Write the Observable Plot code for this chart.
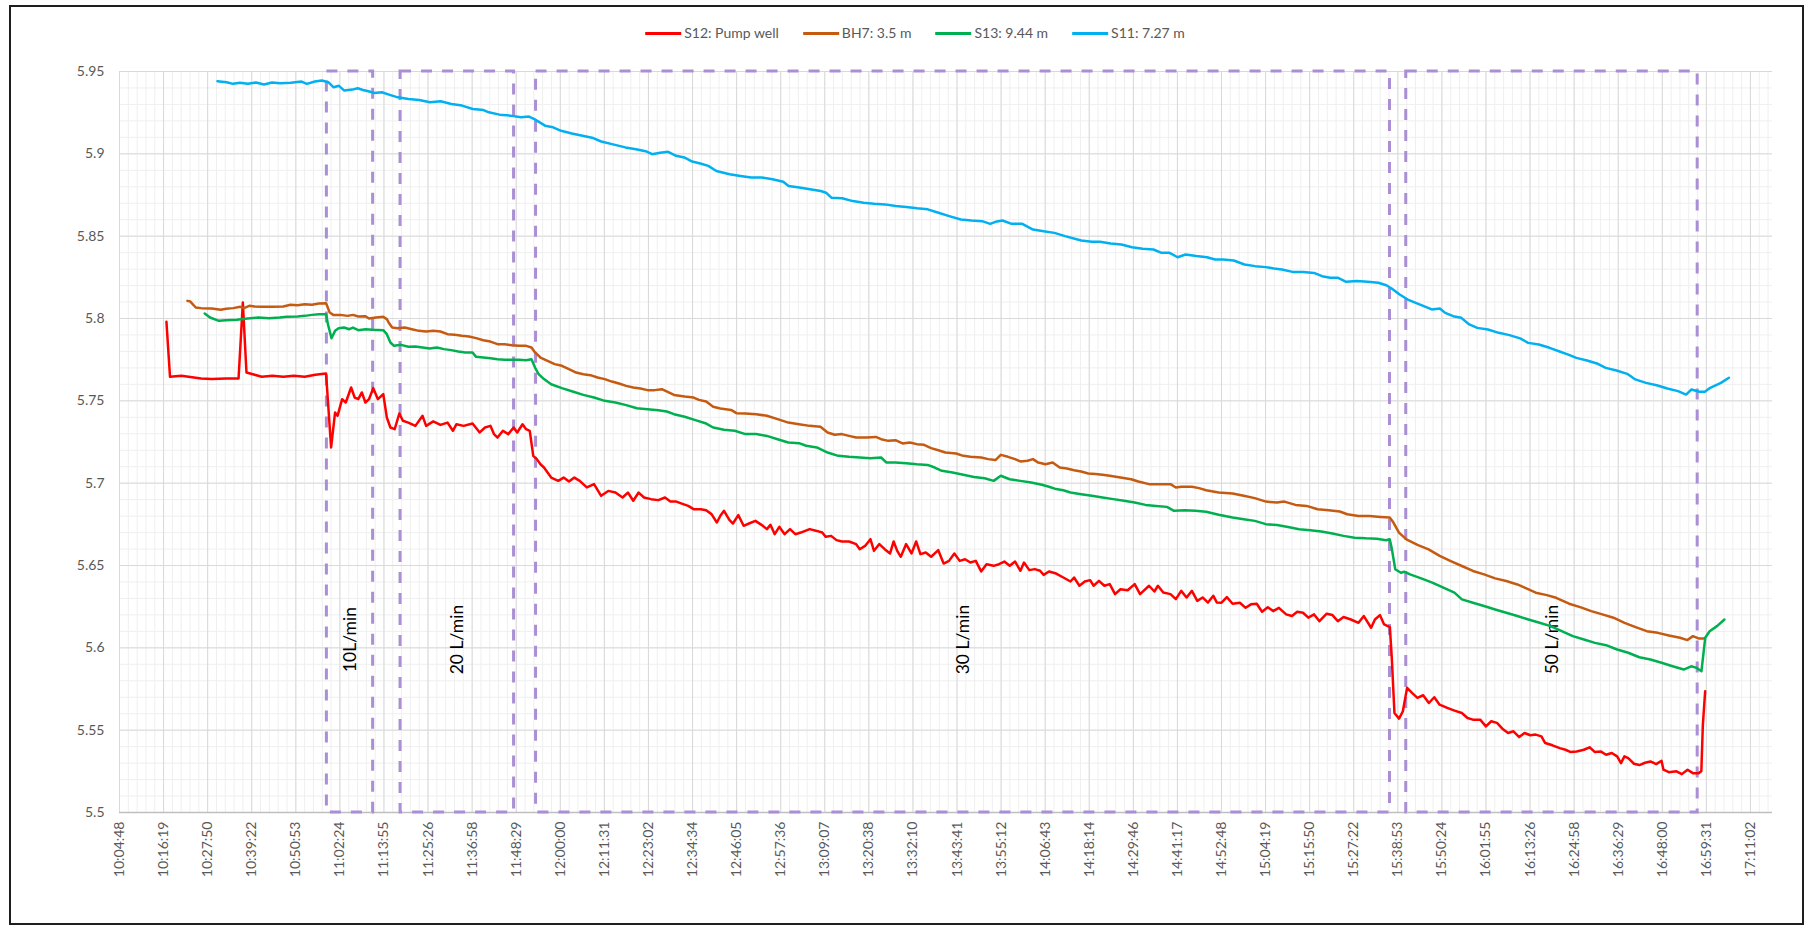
<!DOCTYPE html>
<html><head><meta charset="utf-8">
<script src="https://cdn.jsdelivr.net/npm/d3@7"></script>
<script src="https://cdn.jsdelivr.net/npm/@observablehq/plot@0.6"></script>
<style>
html,body{margin:0;padding:0;background:#fff;overflow:hidden}
#wrap{position:relative;width:1812px;height:936px;font-family:Lato,"Open Sans",sans-serif}
#legend{position:relative;height:60px}
#legend .items{position:absolute;left:915px;top:24px;transform:translateX(-50%);display:flex;gap:24px;white-space:nowrap;font-size:14px;color:#595959;line-height:18px}
#legend .item{display:flex;align-items:center}
#legend .sw{display:inline-block;width:36px;height:3px;margin-right:3px}
#frame{position:absolute;left:9px;top:5px;width:1795px;height:920px;border:2px solid #1e1e1e;box-sizing:border-box;pointer-events:none}
</style></head>
<body>
<div id="wrap"><div id="legend"><div class="items"></div></div><div id="chart"></div><div id="frame"></div></div>
<script>
const seriesNames = ["S12: Pump well","BH7: 3.5 m","S13: 9.44 m","S11: 7.27 m"];
const seriesColors = ["#ff0000","#c55a11","#00b050","#00b0f0"];

const s12 = [["10:17:04",5.798],["10:18:00",5.7646],["10:20:59",5.7652],["10:24:15",5.7642],["10:26:07",5.7636],["10:28:55",5.7632],["10:32:40",5.7636],["10:35:55",5.7636],["10:37:02",5.8097],["10:37:59",5.7672],["10:40:07",5.7658],["10:41:59",5.7646],["10:44:47",5.7652],["10:47:35",5.7646],["10:50:23",5.7652],["10:53:11",5.7646],["10:55:59",5.7658],["10:58:47",5.7666],["11:00:06",5.7217],["11:01:08",5.7429],["11:01:47",5.7409],["11:02:59",5.751],["11:03:56",5.749],["11:05:20",5.7581],["11:06:16",5.752],["11:07:12",5.751],["11:08:08",5.7551],["11:09:04",5.749],["11:10:00",5.751],["11:11:07",5.7577],["11:12:20",5.751],["11:13:44",5.7541],["11:14:40",5.7399],["11:15:36",5.7338],["11:16:43",5.7328],["11:17:56",5.7423],["11:18:52",5.7379],["11:20:16",5.7368],["11:22:08",5.7348],["11:24:00",5.7409],["11:24:56",5.7348],["11:26:48",5.7375],["11:28:40",5.7354],["11:30:32",5.7368],["11:31:56",5.7318],["11:32:52",5.7358],["11:34:44",5.7348],["11:37:04",5.7362],["11:38:56",5.7308],["11:40:20",5.7338],["11:41:44",5.7348],["11:42:40",5.7298],["11:43:36",5.7277],["11:45:00",5.7318],["11:46:24",5.7298],["11:47:48",5.7338],["11:48:44",5.7308],["11:50:08",5.7358],["11:51:04",5.7328],["11:52:01",5.7318],["11:52:56",5.7166],["11:53:52",5.7146],["11:54:49",5.7115],["11:55:44",5.7095],["11:57:37",5.7034],["11:59:28",5.7014],["12:00:52",5.7034],["12:02:16",5.701],["12:03:40",5.7034],["12:05:04",5.7014],["12:06:56",5.6974],["12:08:49",5.6994],["12:10:40",5.6923],["12:12:32",5.6953],["12:14:25",5.6943],["12:16:16",5.6913],["12:17:40",5.6943],["12:19:04",5.6893],["12:20:28",5.6943],["12:21:53",5.6913],["12:23:44",5.6903],["12:25:37",5.6897],
["12:27:22",5.6913],["12:28:46",5.6889],["12:30:10",5.6889],["12:31:34",5.6877],["12:33:26",5.6862],["12:34:50",5.6842],["12:36:43",5.6842],["12:38:07",5.6836],["12:39:31",5.6812],["12:40:55",5.6761],["12:41:50",5.6802],["12:42:47",5.6832],["12:44:11",5.6777],["12:45:07",5.6755],["12:46:31",5.6806],["12:47:55",5.6741],["12:49:19",5.6755],["12:50:59",5.6771],["12:52:35",5.6747],["12:53:59",5.6721],["12:54:55",5.6747],["12:56:02",5.669],["12:57:14",5.6735],["12:58:38",5.669],["13:00:02",5.6721],["13:01:26",5.669],["13:02:50",5.670],["13:05:11",5.6721],["13:07:02",5.671],["13:08:27",5.670],["13:09:23",5.6674],["13:10:47",5.668],["13:12:11",5.6654],["13:13:35",5.6646],["13:15:27",5.6646],["13:17:19",5.663],["13:18:15",5.6599],["13:19:39",5.6619],["13:21:03",5.666],["13:21:59",5.6589],["13:23:23",5.663],["13:24:47",5.6599],["13:26:11",5.6573],["13:27:07",5.6646],["13:28:03",5.6589],["13:28:59",5.6553],["13:30:23",5.663],["13:31:47",5.6573],["13:33:00",5.6646],["13:34:07",5.6569],["13:35:31",5.6579],["13:36:55",5.6553],["13:38:47",5.6593],["13:40:11",5.6512],["13:41:35",5.6528],["13:42:59",5.6573],["13:44:23",5.6528],["13:45:47",5.6538],["13:47:11",5.6518],["13:48:35",5.6528],["13:49:59",5.6464],["13:51:23",5.6508],["13:53:15",5.6498],["13:54:39",5.6508],["13:56:03",5.6524],["13:57:27",5.6498],["13:58:51",5.6524],["14:00:15",5.6468],["14:01:11",5.6518],["14:02:35",5.6472],["14:03:59",5.6478],["14:05:23",5.6468],["14:06:19",5.6443],["14:07:43",5.6464],["14:09:35",5.6451],["14:11:28",5.6427],["14:13:20",5.6403],["14:14:16",5.6427],["14:15:40",5.6377],["14:17:04",5.6403],["14:18:28",5.6411],["14:19:23",5.6377],["14:20:47",5.6407],["14:22:11",5.6377],["14:23:35",5.6387],["14:24:59",5.6326],["14:26:23",5.6356],["14:28:16",5.635],["14:30:07",5.6387],["14:31:31",5.6326],["14:33:52",5.6377],["14:35:16",5.6342],["14:36:11",5.6377],["14:37:35",5.6336],["14:39:28",5.6326],["14:40:52",5.6296],["14:42:16",5.6346],["14:43:40",5.6306],["14:45:04",5.6346],["14:46:28",5.6285],["14:47:52",5.6306],["14:49:16",5.6275],["14:50:40",5.6316],["14:51:36",5.6275],
["14:52:48",5.6274],["14:54:12",5.6308],["14:55:42",5.6268],["14:57:36",5.6274],["14:59:06",5.6243],["15:00:30",5.6264],["15:02:00",5.6268],["15:03:24",5.6219],["15:04:54",5.6247],["15:06:18",5.6223],["15:07:48",5.6243],["15:09:42",5.6203],["15:11:12",5.6193],["15:12:36",5.6219],["15:14:06",5.6213],["15:15:30",5.6183],["15:17:00",5.6203],["15:18:24",5.6162],["15:20:18",5.6207],["15:21:48",5.6199],["15:23:12",5.6162],["15:24:42",5.6187],["15:26:36",5.6172],["15:28:36",5.6152],["15:30:00",5.6193],["15:31:54",5.6122],["15:32:54",5.6172],["15:34:12",5.6199],["15:35:18",5.6142],["15:36:48",5.6126],["15:37:18",5.5939],["15:38:00",5.5604],["15:39:12",5.557],["15:40:12",5.5615],["15:41:18",5.5757],["15:42:36",5.5726],["15:44:00",5.5696],["15:45:30",5.5712],["15:47:00",5.5665],["15:48:24",5.57],["15:49:48",5.5655],["15:51:48",5.5635],["15:53:42",5.5619],["15:55:36",5.5604],["15:57:06",5.5574],["15:58:30",5.5564],["16:00:24",5.5564],["16:01:54",5.5523],["16:03:18",5.5554],["16:04:48",5.5544],["16:06:12",5.5509],["16:07:42",5.5483],["16:09:06",5.5493],["16:10:36",5.5458],["16:12:00",5.5483],["16:13:30",5.5469],["16:14:54",5.5473],["16:16:24",5.5462],["16:17:24",5.5422],["16:19:18",5.5408],["16:21:12",5.5391],["16:22:42",5.5381],["16:24:06",5.5367],["16:25:36",5.5371],["16:27:30",5.5381],["16:29:00",5.5396],["16:30:24",5.5367],["16:31:54",5.5371],["16:33:18",5.5351],["16:34:48",5.5361],["16:36:12",5.5341],["16:37:12",5.530],["16:38:06",5.5341],["16:39:06",5.533],["16:40:36",5.5296],["16:42:00",5.5288],["16:43:30",5.5302],["16:44:54",5.531],["16:46:24",5.5294],["16:47:48",5.5314],["16:48:18",5.526],["16:49:42",5.5245],["16:51:42",5.525],["16:53:06",5.5233],["16:54:36",5.526],["16:56:00",5.5239],["16:57:30",5.5239],["16:58:12",5.525],["16:58:36",5.5533],["16:59:12",5.5736]];

const bh7 = [["10:22:34",5.8107],["10:23:19",5.8103],["10:24:43",5.8067],["10:26:07",5.8063],["10:28:55",5.8061],["10:31:15",5.8053],["10:32:40",5.8059],["10:34:31",5.8063],["10:36:23",5.8071],["10:37:19",5.8063],["10:38:43",5.8077],["10:40:07",5.8073],["10:42:00",5.8071],["10:44:48",5.8071],["10:47:36",5.8073],["10:49:28",5.8083],["10:51:20",5.8081],["10:53:12",5.8087],["10:55:04",5.8083],["10:56:56",5.8091],["10:58:48",5.8093],["10:59:44",5.8036],["11:00:40",5.8022],["11:02:32",5.8022],["11:04:24",5.8016],["11:05:48",5.8022],["11:07:12",5.8012],["11:09:04",5.8014],["11:10:00",5.800],["11:11:52",5.8006],["11:13:44",5.801],["11:14:40",5.7996],["11:15:08",5.7976],["11:16:04",5.7945],["11:17:28",5.7941],["11:19:20",5.7945],["11:21:12",5.7935],["11:23:04",5.7925],["11:24:56",5.7921],["11:26:48",5.7925],["11:28:40",5.7921],["11:30:32",5.7905],["11:32:24",5.7901],["11:34:16",5.7895],["11:36:08",5.7891],["11:38:00",5.7881],["11:39:52",5.7868],["11:41:44",5.786],["11:43:36",5.7844],["11:45:28",5.7844],["11:47:20",5.7838],["11:49:12",5.7834],["11:51:04",5.7834],["11:52:28",5.7824],["11:53:24",5.7794],["11:54:49",5.7763],["11:56:40",5.7743],["11:58:32",5.7723],["12:00:25",5.7713],["12:02:16",5.7692],["12:04:08",5.7672],["12:06:01",5.7662],["12:07:52",5.7656],["12:09:44",5.7642],["12:11:37",5.7632],["12:13:28",5.7617],["12:15:20",5.7605],["12:17:13",5.7591],["12:19:04",5.7581],["12:20:56",5.7575],["12:22:49",5.7565],["12:24:40",5.7565],["12:26:32",5.7571],["12:29:43",5.7536],["12:32:31",5.7526],["12:34:50",5.752],["12:36:14",5.7506],["12:38:07",5.7496],["12:39:58",5.7464],["12:41:50",5.7453],["12:44:38",5.7445],["12:46:02",5.7425],["12:48:23",5.7423],["12:51:11",5.7419],["12:53:59",5.7409],["12:56:47",5.7389],["12:59:35",5.7368],["13:02:23",5.7358],["13:05:11",5.7348],["13:07:59",5.7342],["13:09:51",5.7308],["13:11:43",5.7294],["13:13:35",5.7298],["13:15:27",5.7287],["13:17:19",5.7277],["13:20:07",5.7277],["13:22:27",5.7281],["13:23:51",5.7267],["13:25:43",5.7257],["13:27:35",5.7261],["13:29:27",5.7241],["13:31:19",5.7247],["13:33:11",5.7237],["13:35:03",5.7233],["13:36:55",5.7213],["13:38:47",5.72],["13:40:39",5.7186],["13:43:27",5.718],["13:45:19",5.7166],["13:47:11",5.716],["13:49:59",5.7156],["13:51:51",5.7146],["13:53:43",5.714],["13:55:07",5.7172],["13:56:59",5.716],["13:58:51",5.7146],["14:00:15",5.7132],["14:02:07",5.7136],["14:03:31",5.7146],["14:04:55",5.7125],["14:06:47",5.7115],["14:08:40",5.7125],["14:10:31",5.7095],["14:12:23",5.7089],["14:14:16",5.7079],["14:16:07",5.7071],["14:17:59",5.7059],["14:19:52",5.7055],["14:21:43",5.7051],["14:23:35",5.7045],["14:26:23",5.7034],["14:29:11",5.7024],["14:31:04",5.701],["14:33:52",5.6994],["14:36:40",5.6994],["14:39:28",5.6994],["14:40:52",5.6974],["14:42:16",5.6978],["14:45:04",5.6978],["14:46:56",5.697],["14:48:47",5.6957],["14:52:04",5.6943],["14:55:42",5.6937],["14:58:36",5.6923],["15:01:30",5.6909],["15:04:24",5.6888],["15:07:18",5.6882],["15:09:14",5.6888],["15:12:08",5.6868],["15:15:02",5.6862],["15:17:56",5.6842],["15:20:50",5.6836],["15:23:43",5.6828],["15:25:40",5.6811],["15:28:34",5.6801],["15:31:28",5.6801],["15:34:22",5.6795],["15:36:46",5.6791],["15:37:44",5.6761],["15:39:11",5.67],["15:41:07",5.6659],["15:44:01",5.6625],["15:46:55",5.6598],["15:49:49",5.6558],["15:52:43",5.6527],["15:55:37",5.6497],["15:58:31",5.6467],["16:01:25",5.6446],["16:04:19",5.6422],["16:07:13",5.6406],["16:10:07",5.6385],["16:12:02",5.6365],["16:14:56",5.6335],["16:17:50",5.632],["16:20:16",5.6304],["16:23:38",5.6268],["16:26:32",5.6247],["16:29:26",5.6223],["16:32:20",5.6203],["16:35:14",5.6183],["16:38:08",5.6152],["16:41:02",5.6126],["16:43:56",5.6101],["16:46:50",5.6091],["16:49:44",5.6075],["16:52:38",5.6061],["16:54:34",5.6047],["16:56:01",5.6071],["16:57:28",5.6057],["16:58:55",5.6057]];

const s13 = [["10:27:04",5.803],["10:28:28",5.8006],["10:30:47",5.7986],["10:32:40",5.799],["10:35:28",5.7992],["10:38:16",5.80],["10:41:04",5.8006],["10:43:52",5.8002],["10:46:40",5.8006],["10:48:32",5.801],["10:51:20",5.8012],["10:53:12",5.8016],["10:55:04",5.8022],["10:56:56",5.8026],["10:58:48",5.8026],["10:59:16",5.7966],["11:00:12",5.788],["11:01:08",5.7925],["11:02:04",5.7941],["11:03:28",5.7945],["11:04:52",5.7935],["11:05:48",5.7945],["11:07:12",5.7929],["11:09:04",5.7935],["11:10:56",5.7931],["11:13:44",5.7929],["11:14:40",5.7905],["11:15:36",5.7854],["11:16:32",5.7834],["11:18:24",5.784],["11:20:16",5.7828],["11:22:08",5.783],["11:24:00",5.7824],["11:25:52",5.7818],["11:27:44",5.7824],["11:29:36",5.7814],["11:31:28",5.7808],["11:33:20",5.78],["11:35:12",5.7794],["11:37:04",5.7794],["11:38:00",5.7767],["11:39:52",5.7763],["11:41:44",5.7759],["11:43:36",5.7753],["11:45:28",5.7749],["11:47:20",5.7749],["11:49:12",5.7749],["11:51:04",5.7747],["11:52:28",5.7753],["11:53:24",5.7702],["11:54:20",5.7662],["11:55:44",5.7632],["11:57:36",5.7601],["12:00:25",5.7577],["12:03:13",5.7557],["12:06:01",5.7536],["12:08:49",5.752],["12:11:37",5.75],["12:14:25",5.749],["12:17:13",5.7474],["12:20:01",5.7455],["12:22:49",5.7449],["12:25:37",5.7443],["12:27:50",5.7435],["12:29:43",5.7419],["12:32:31",5.7403],["12:35:19",5.7383],["12:38:07",5.7362],["12:39:58",5.7338],["12:42:46",5.7324],["12:45:34",5.7318],["12:48:23",5.7298],["12:51:11",5.7298],["12:53:59",5.7287],["12:56:47",5.7267],["12:59:35",5.7247],["13:02:23",5.7243],["13:04:15",5.7227],["13:07:03",5.7217],["13:09:51",5.7186],["13:12:39",5.7166],["13:15:27",5.716],["13:18:15",5.7156],["13:21:03",5.7152],["13:23:51",5.7156],["13:25:15",5.7125],["13:27:35",5.7125],["13:30:23",5.7121],["13:33:11",5.7115],["13:35:59",5.7111],["13:37:51",5.7095],["13:39:43",5.7075],["13:42:31",5.7065],["13:45:19",5.7051],["13:48:07",5.7038],["13:50:55",5.703],["13:53:15",5.7014],["13:55:07",5.7045],["13:57:27",5.7024],["14:00:15",5.7014],["14:03:03",5.7004],["14:05:52",5.699],["14:07:43",5.6978],["14:09:35",5.6964],["14:11:28",5.6957],["14:13:20",5.6943],["14:16:07",5.6933],["14:18:55",5.6923],["14:21:43",5.6913],["14:24:31",5.6903],["14:27:19",5.6893],["14:30:07",5.6883],["14:32:56",5.6868],["14:35:44",5.6862],["14:38:32",5.6856],["14:40:23",5.6832],["14:43:11",5.6836],["14:45:59",5.6832],["14:48:47",5.6826],["14:52:04",5.6808],["14:55:42",5.6791],["14:58:36",5.6781],["15:01:30",5.6771],["15:04:24",5.6751],["15:07:18",5.6746],["15:10:12",5.6734],["15:13:05",5.672],["15:15:59",5.6714],["15:18:53",5.6706],["15:21:47",5.6694],["15:24:41",5.668],["15:27:35",5.6669],["15:30:29",5.6665],["15:33:23",5.6663],["15:35:49",5.6653],["15:36:46",5.6659],["15:37:15",5.6609],["15:38:13",5.6477],["15:39:40",5.6456],["15:40:38",5.6462],["15:42:05",5.6446],["15:44:59",5.6422],["15:47:53",5.6396],["15:50:47",5.6365],["15:53:41",5.6335],["15:55:37",5.6294],["15:58:31",5.6274],["16:01:25",5.6254],["16:04:19",5.6233],["16:07:13",5.6213],["16:10:07",5.6193],["16:13:01",5.6172],["16:15:55",5.6152],["16:18:49",5.6132],["16:21:43",5.6101],["16:24:37",5.6071],["16:27:31",5.6051],["16:30:25",5.603],["16:33:18",5.6016],["16:36:12",5.599],["16:39:06",5.597],["16:42:00",5.5943],["16:44:54",5.5929],["16:47:48",5.5909],["16:50:42",5.5888],["16:53:36",5.5868],["16:55:32",5.5888],["16:56:59",5.5878],["16:58:14",5.5858],["16:59:13",5.6061],["17:00:22",5.6101],["17:02:18",5.6132],["17:04:14",5.6172]];

const s11 = [["10:30:24",5.9441],["10:32:47",5.9435],["10:34:28",5.9425],["10:36:17",5.9431],["10:38:22",5.9425],["10:40:28",5.9433],["10:42:34",5.9421],["10:44:40",5.9433],["10:46:46",5.9429],["10:49:34",5.9431],["10:52:22",5.9439],["10:53:46",5.9425],["10:55:52",5.9439],["10:57:41",5.9445],["10:59:22",5.9435],["11:00:46",5.9404],["11:02:09",5.9413],["11:03:33",5.9384],["11:05:39",5.939],["11:07:03",5.9398],["11:08:27",5.9388],["11:09:51",5.938],["11:11:15",5.937],["11:13:21",5.9374],["11:15:26",5.9358],["11:17:32",5.9343],["11:20:20",5.9333],["11:23:08",5.9327],["11:25:56",5.9313],["11:28:44",5.9319],["11:31:32",5.9303],["11:34:20",5.9293],["11:37:08",5.9272],["11:39:56",5.9266],["11:41:19",5.9252],["11:44:07",5.9238],["11:46:55",5.9232],["11:49:43",5.9222],["11:51:49",5.9226],["11:53:13",5.9211],["11:54:37",5.9191],["11:56:01",5.9171],["11:58:07",5.9161],["12:00:13",5.914],["12:03:01",5.9124],["12:05:48",5.911],["12:08:36",5.9096],["12:10:42",5.9075],["12:13:30",5.9059],["12:17:00",5.9039],["12:19:47",5.9028],["12:22:35",5.9014],["12:23:59",5.8998],["12:26:05",5.9006],["12:28:11",5.9012],["12:30:17",5.8988],["12:32:23",5.8978],["12:34:29",5.8953],["12:36:35",5.8941],["12:38:41",5.8927],["12:40:47",5.8896],["12:44:16",5.8876],["12:47:04",5.8866],["12:49:52",5.8856],["12:52:40",5.8856],["12:55:28",5.8846],["12:58:16",5.8831],["12:59:40",5.8805],["13:02:28",5.8795],["13:05:16",5.8785],["13:08:04",5.8774],["13:09:27",5.8764],["13:10:51",5.8734],["13:13:39",5.873],["13:16:27",5.8713],["13:19:15",5.8703],["13:22:02",5.8697],["13:24:50",5.8693],["13:27:38",5.8683],["13:30:26",5.8677],["13:33:14",5.8669],["13:36:02",5.8663],["13:38:50",5.8642],["13:41:38",5.8622],["13:44:40",5.8601],["13:47:28",5.8595],["13:50:15",5.8591],["13:52:21",5.8575],["13:53:45",5.8587],["13:55:34",5.8595],["13:57:57",5.8575],["14:00:45",5.8575],["14:03:32",5.854],["14:06:20",5.853],["14:09:08",5.852],["14:11:56",5.85],["14:16:08",5.8474],["14:18:56",5.8466],["14:21:02",5.8466],["14:23:50",5.8455],["14:26:38",5.8449],["14:29:25",5.8433],["14:32:13",5.8423],["14:35:01",5.8419],["14:37:07",5.8399],["14:39:13",5.8399],["14:41:19",5.8372],["14:43:25",5.8389],["14:46:13",5.8379],["14:49:01",5.8372],["14:51:07",5.8358],["14:53:13",5.8358],["14:56:00",5.8352],["14:58:48",5.8328],["15:01:36",5.8318],["15:04:24",5.8312],["15:06:30",5.8304],["15:08:35",5.8298],["15:11:23",5.8283],["15:14:11",5.8283],["15:16:59",5.8277],["15:19:05",5.8257],["15:21:11",5.8247],["15:23:17",5.8247],["15:25:23",5.8223],["15:28:11",5.8227],["15:30:59",5.8223],["15:33:47",5.8217],["15:35:52",5.8202],["15:37:16",5.8182],["15:39:22",5.8146],["15:41:28",5.8115],["15:43:34",5.8095],["15:45:40",5.8075],["15:47:46",5.8055],["15:49:52",5.8061],["15:51:16",5.8034],["15:53:22",5.8014],["15:55:28",5.8004],["15:57:33",5.7964],["15:59:39",5.7943],["16:02:27",5.7933],["16:05:15",5.7913],["16:08:03",5.7899],["16:10:51",5.7879],["16:12:57",5.7852],["16:15:44",5.7842],["16:18:32",5.7822],["16:21:20",5.7798],["16:23:26",5.7781],["16:25:32",5.7761],["16:28:20",5.7745],["16:31:08",5.7725],["16:33:14",5.77],["16:36:02",5.7684],["16:38:50",5.7664],["16:40:56",5.763],["16:43:44",5.7609],["16:46:32",5.7595],["16:49:19",5.7575],["16:52:07",5.7559],["16:54:13",5.7538],["16:55:37",5.7569],["16:57:43",5.7555],["16:59:07",5.7555],["17:00:31",5.7579],["17:03:19",5.7609],["17:05:25",5.764]];

const rateLabels = ["10L/min","20 L/min","30 L/min","50 L/min"];
const rateStart = ["10:59:00","11:18:15","11:53:40","15:41:05"];
const rateEnd = ["11:11:05","11:47:55","15:36:50","16:57:15"];

const xTickLabels = ["10:04:48","10:16:19","10:27:50","10:39:22","10:50:53","11:02:24","11:13:55","11:25:26","11:36:58","11:48:29","12:00:00","12:11:31","12:23:02","12:34:34","12:46:05","12:57:36","13:09:07","13:20:38","13:32:10","13:43:41","13:55:12","14:06:43","14:18:14","14:29:46","14:41:17","14:52:48","15:04:19","15:15:50","15:27:22","15:38:53","15:50:24","16:01:55","16:13:26","16:24:58","16:36:29","16:48:00","16:59:31","17:11:02"];
const xDomainLabels = ["10:04:48","17:16:48"];
const yTicks = [5.5,5.55,5.6,5.65,5.7,5.75,5.8,5.85,5.9,5.95];
const yTickLabels = ["5.5","5.55","5.6","5.65","5.7","5.75","5.8","5.85","5.9","5.95"];

const toSec = s => { const p = s.split(":").map(Number); return p[0]*3600 + p[1]*60 + (p[2] || 0); };
const xTickSec = xTickLabels.map(toSec);
const xLabelMap = new Map(xTickSec.map((v,i)=>[v, xTickLabels[i]]));
const yLabelMap = new Map(yTicks.map((v,i)=>[v, yTickLabels[i]]));
const xDomain = xDomainLabels.map(toSec);
const yMin = yTicks[0], yMax = yTicks[yTicks.length-1];

// Excel-style minor gridlines (5 per major on x, 0.01 on y)
const majorStep = xTickSec[1] - xTickSec[0] + 0.2;
const minorX = d3.range(0, 188).map(k => xDomain[0] + k*majorStep/5);
const minorY = d3.range(0, 46).map(k => +(yMin + k*0.01).toFixed(2));

const steps = rateLabels.map((label,i)=>({label, x1: toSec(rateStart[i]), x2: toSec(rateEnd[i])}));
const seriesData = [s12, bh7, s13, s11];

// legend
const items = d3.select("#legend .items");
seriesNames.forEach((n,i)=>{
  const it = items.append("div").attr("class","item");
  it.append("span").attr("class","sw").style("background", seriesColors[i]);
  it.append("span").text(n);
});

const chart = Plot.plot({
  width: 1812, height: 876,
  marginLeft: 119, marginRight: 40, marginTop: 11, marginBottom: 124,
  style: {fontFamily: "Lato, 'Open Sans', sans-serif", fontSize: "14px", color: "#595959", background: "transparent", overflow: "visible"},
  x: {type: "linear", domain: xDomain, ticks: xTickSec, tickFormat: d => xLabelMap.get(d), tickRotate: -90, tickSize: 0, tickPadding: 9, label: null},
  y: {domain: [yMin, yMax], ticks: yTicks, tickFormat: d => yLabelMap.get(d), tickSize: 0, tickPadding: 15, label: null},
  marks: [
    Plot.ruleX(minorX, {stroke: "#efefef", strokeWidth: 1}),
    Plot.ruleY(minorY, {stroke: "#efefef", strokeWidth: 1}),
    Plot.ruleX(xTickSec, {stroke: "#d9d9d9", strokeWidth: 1}),
    Plot.ruleY(yTicks, {stroke: "#d9d9d9", strokeWidth: 1}),
    Plot.ruleY([yMin], {stroke: "#bfbfbf", strokeWidth: 1.5}),
    Plot.rect(steps, {x1: "x1", x2: "x2", y1: yMin, y2: yMax, fill: "none", stroke: "#aa8fd4", strokeWidth: 3, strokeDasharray: "11,10"}),
    Plot.text(steps, {x: d => (d.x1 + d.x2)/2, y: 5.605, text: "label", rotate: -90, fill: "#000", fontSize: 17.5, fontFamily: "Lato, sans-serif"}),
    ...seriesData.map((arr,i) => Plot.line(arr, {x: d => toSec(d[0]), y: d => d[1], stroke: seriesColors[i], strokeWidth: 2.5, strokeLinejoin: "round"}))
  ]
});
document.getElementById("chart").appendChild(chart);
</script>
</body></html>
